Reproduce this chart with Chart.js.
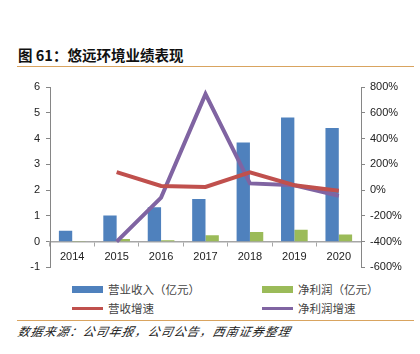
<!DOCTYPE html>
<html><head><meta charset="utf-8">
<script src="https://cdn.jsdelivr.net/npm/chart.js@4.4.0/dist/chart.umd.min.js"></script>
<style>
body{margin:0;width:420px;height:354px;background:#fff;position:relative;overflow:hidden;font-family:"Liberation Sans",Arial,sans-serif;}
#title{position:absolute;left:18px;top:45px;font-family:"Noto Sans CJK SC";font-weight:bold;font-size:14.5px;color:#111;line-height:20px;white-space:nowrap;}
#rule1{position:absolute;left:17px;right:6px;top:66px;height:0;border-top:1.5px solid #D9A460;}
#rule2{position:absolute;left:17px;right:6px;top:320px;height:0;border-top:1.5px solid #D9A460;}
#src{position:absolute;left:18px;top:322px;font-family:"Noto Sans CJK SC";font-style:italic;font-size:12px;letter-spacing:1px;color:#222;line-height:18px;white-space:nowrap;transform:skewX(-12deg);transform-origin:left;}
#wrap{position:absolute;left:0;top:70px;width:420px;height:210px;}
#legend{position:absolute;left:0;top:280px;width:420px;height:36px;font-family:"Noto Sans CJK SC";font-size:11.5px;color:#444;}
.li{position:absolute;display:flex;align-items:center;height:18px;white-space:nowrap;}
.sw{width:31px;margin-right:5px;}
</style></head><body>
<div id="title">图 61：悠远环境业绩表现</div>
<div id="rule1"></div>
<div id="wrap"><canvas id="c" width="420" height="210"></canvas></div>
<div id="legend"></div>
<div id="rule2"></div>
<div id="src">数据来源：公司年报，公司公告，西南证券整理</div>
<script>
const categories = ["2014","2015","2016","2017","2018","2019","2020"];
const revenue = [0.42, 1.01, 1.33, 1.65, 3.85, 4.82, 4.41];
const netProfit = [0.02, 0.10, 0.05, 0.25, 0.37, 0.46, 0.28];
const revenueGrowth = [null, 140, 32, 24, 138, 38, -6];
const profitGrowth = [null, -400, -58, 745, 52, 38, -45];
const seriesNames = ["营业收入（亿元）", "净利润（亿元）", "营收增速", "净利润增速"];
const leftTicks = [-1,0,1,2,3,4,5,6];
const rightTicks = [-600,-400,-200,0,200,400,600,800];

const colors = ["#4F81BD","#9BBB59","#C0504D","#8064A2"];

// HTML legend (2 columns)
const lg = document.getElementById('legend');
const pos = [[72,0],[262,0],[72,19],[262,19]];
seriesNames.forEach((n,i)=>{
  const d=document.createElement('div');d.className='li';
  d.style.left=pos[i][0]+'px';d.style.top=pos[i][1]+'px';
  const s=document.createElement('span');s.className='sw';
  s.style.height=(i<2?7:3)+'px';s.style.background=colors[i];
  d.appendChild(s);d.appendChild(document.createTextNode(n));lg.appendChild(d);
});

const tickFont={family:"Liberation Sans, Arial, sans-serif",size:11};
new Chart(document.getElementById('c'),{
  data:{labels:categories,datasets:[
    {type:'line',label:seriesNames[2],data:revenueGrowth,yAxisID:'y1',borderColor:colors[2],borderWidth:4,pointRadius:0,tension:0,order:0},
    {type:'line',label:seriesNames[3],data:profitGrowth,yAxisID:'y1',borderColor:colors[3],borderWidth:4,pointRadius:0,tension:0,order:0},
    {type:'bar',label:seriesNames[0],data:revenue,yAxisID:'y',backgroundColor:colors[0],categoryPercentage:0.6,barPercentage:1.0,order:1},
    {type:'bar',label:seriesNames[1],data:netProfit,yAxisID:'y',backgroundColor:colors[1],categoryPercentage:0.6,barPercentage:1.0,order:1}
  ]},
  options:{
    responsive:false,animation:false,
    layout:{padding:{top:17,bottom:10}},
    plugins:{legend:{display:false},tooltip:{enabled:false}},
    scales:{
      x:{position:{y:0},offset:true,
        grid:{display:true,offset:true,drawOnChartArea:false,drawTicks:true,tickLength:4,color:'#A6A6A6'},
        border:{display:true,color:'#A6A6A6',width:1.5},
        ticks:{font:tickFont,color:'#222',padding:5,maxRotation:0}},
      y:{position:'left',min:-1,max:6,
        afterFit:s=>{s.width=50;},
        afterBuildTicks:s=>{s.ticks=leftTicks.map(v=>({value:v}));},
        grid:{drawOnChartArea:false,drawTicks:true,tickLength:4,color:'#868686'},
        border:{display:true,color:'#868686'},
        ticks:{font:tickFont,color:'#222',padding:6}},
      y1:{position:'right',min:-600,max:800,
        afterFit:s=>{s.width=59;},
        afterBuildTicks:s=>{s.ticks=rightTicks.map(v=>({value:v}));},
        grid:{drawOnChartArea:false,drawTicks:true,tickLength:4,color:'#868686'},
        border:{display:true,color:'#868686'},
        ticks:{font:tickFont,color:'#222',padding:5,callback:v=>v+'%'}}
    }
  }
});
</script>
</body></html>
